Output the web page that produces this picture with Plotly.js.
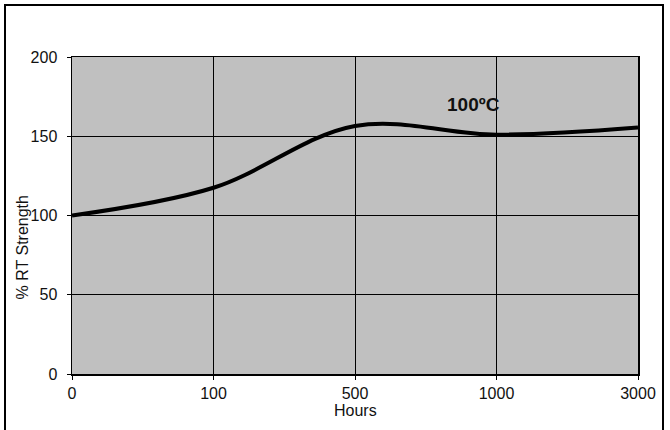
<!DOCTYPE html>
<html>
<head>
<meta charset="utf-8">
<script src="https://cdn.plot.ly/plotly-3.0.1.min.js"></script>
<style>
  html, body { margin: 0; padding: 0; background: #fff; }
  #wrap { position: relative; width: 670px; height: 430px; overflow: hidden; }
  #frame { position: absolute; left: 4px; top: 4px; width: 660px; height: 440px; border: 2px solid #000; box-sizing: border-box; pointer-events: none; z-index: 5; }
  #chart { position: absolute; left: 0; top: 0; width: 670px; height: 430px; }
</style>
</head>
<body>
<div id="wrap">
  <div id="chart"></div>
  <div id="frame"></div>
</div>
<script>
const hours = ["0", "100", "500", "1000", "3000"];
const strength = [100, 117.5, 156.5, 151, 155.5];
const yTicks = [0, 50, 100, 150, 200];
const seriesLabel = "100ºC";

const trace = {
  x: hours,
  y: strength,
  type: "scatter",
  mode: "lines",
  line: { color: "#000", width: 4, shape: "spline", smoothing: 1 },
  hoverinfo: "skip"
};

const font = { family: "Arial, 'Liberation Sans', sans-serif", size: 16, color: "#111" };

const layout = {
  width: 670,
  height: 430,
  margin: { l: 72, r: 32, t: 57, b: 56 },
  paper_bgcolor: "#fff",
  plot_bgcolor: "#c0c0c0",
  showlegend: false,
  font: font,
  xaxis: {
    type: "category",
    range: [0, 4],
    showgrid: true,
    gridcolor: "#000",
    gridwidth: 1,
    showline: true,
    linecolor: "#000",
    linewidth: 1.5,
    mirror: true,
    ticks: "outside",
    ticklen: 4,
    tickcolor: "#000",
    tickfont: font,
    zeroline: false,
    fixedrange: true
  },
  yaxis: {
    range: [0, 200],
    tickvals: yTicks,
    ticktext: yTicks.map(String),
    showgrid: true,
    gridcolor: "#000",
    gridwidth: 1,
    showline: true,
    linecolor: "#000",
    linewidth: 1.5,
    mirror: true,
    ticks: "outside",
    ticklen: 4,
    tickcolor: "#000",
    tickfont: font,
    ticklabelstandoff: 6,
    zeroline: false,
    fixedrange: true
  },
  annotations: [
    {
      text: "Hours", xref: "paper", yref: "paper",
      x: 0.5, y: -0.115, xanchor: "center", yanchor: "middle",
      showarrow: false, font: font
    },
    {
      text: "% RT Strength", xref: "paper", yref: "paper",
      x: -0.088, y: 0.40, xanchor: "center", yanchor: "middle",
      textangle: -90, showarrow: false, font: font
    },
    {
      text: seriesLabel, xref: "paper", yref: "paper",
      x: 0.71, y: 0.85, xanchor: "center", yanchor: "middle",
      showarrow: false,
      font: { family: "Arial, 'Liberation Sans', sans-serif", size: 19, color: "#111", weight: "bold" }
    }
  ]
};

Plotly.newPlot("chart", [trace], layout, { displayModeBar: false, staticPlot: true });
</script>
</body>
</html>
